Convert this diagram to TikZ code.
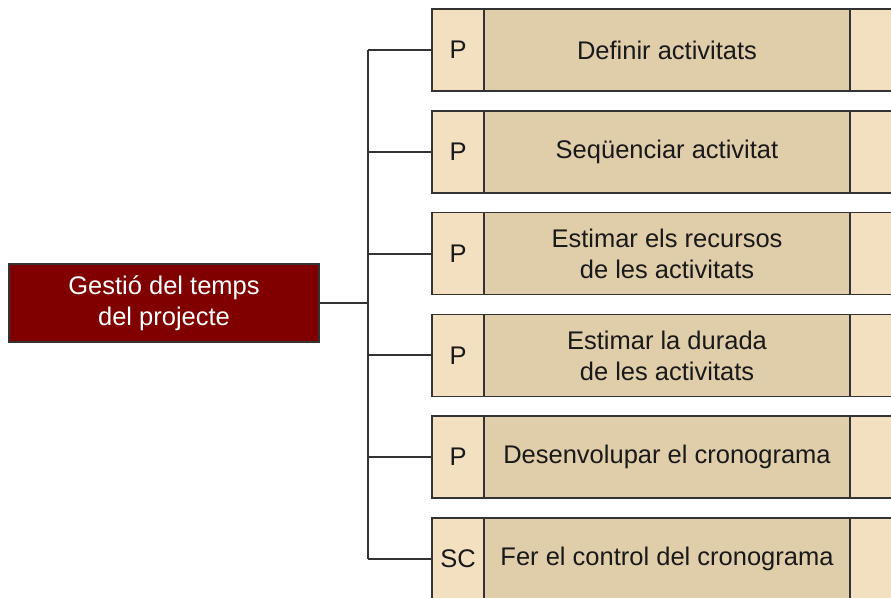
\documentclass[tikz,border=0pt]{standalone}
\usepackage{fontspec}
\setmainfont{Liberation Sans}
\usepackage{tikz}
\usetikzlibrary{positioning}

\definecolor{rootred}{HTML}{800000}
\definecolor{taglight}{HTML}{F3E0C1}
\definecolor{taskdark}{HTML}{E0CDAA}
\definecolor{edgegray}{HTML}{333333}

\tikzset{
    box/.style={draw=edgegray, line width=1.5pt, outer sep=0pt, inner sep=0pt,
        minimum height=82pt, align=center, text=black!90,
        font=\fontsize{25.5}{31}\selectfont},
    tagbox/.style={box, fill=taglight, minimum width=52pt},
    taskbox/.style={box, fill=taskdark, minimum width=366pt},
    endbox/.style={box, fill=taglight, minimum width=80pt},
    rootbox/.style={box, fill=rootred, text=white, minimum width=310pt, minimum height=78pt},
    link/.style={draw=edgegray, line width=2pt}
}

\begin{document}
\begin{tikzpicture}[x=1pt,y=-1pt]
    \useasboundingbox (0,0) rectangle (891,597);
    \clip (0,0) rectangle (891,597);

    \node[rootbox] (root) at (164,303) {Gesti\'o del temps\\del projecte};
    \coordinate (trunk) at (368,303);

    % process rows
    \node[tagbox, anchor=north west] (tag1) at (432,9) {P};
    \node[taskbox, right=0pt of tag1] (task1) {Definir activitats};
    \node[endbox, right=0pt of task1] (end1) {};

    \node[tagbox, anchor=north west] (tag2) at (432,110.8) {P};
    \node[taskbox, right=0pt of tag2] (task2) {Seq\"uenciar activitat};
    \node[endbox, right=0pt of task2] (end2) {};

    \node[tagbox, anchor=north west] (tag3) at (432,212.6) {P};
    \node[taskbox, right=0pt of tag3] (task3) {Estimar els recursos\\de les activitats};
    \node[endbox, right=0pt of task3] (end3) {};

    \node[tagbox, anchor=north west] (tag4) at (432,314.4) {P};
    \node[taskbox, right=0pt of tag4] (task4) {Estimar la durada\\de les activitats};
    \node[endbox, right=0pt of task4] (end4) {};

    \node[tagbox, anchor=north west] (tag5) at (432,416.2) {P};
    \node[taskbox, right=0pt of tag5] (task5) {Desenvolupar el cronograma};
    \node[endbox, right=0pt of task5] (end5) {};

    \node[tagbox, anchor=north west] (tag6) at (432,518) {SC};
    \node[taskbox, right=0pt of tag6] (task6) {Fer el control del cronograma};
    \node[endbox, right=0pt of task6] (end6) {};

    % tree lines
    \draw[link] (root) -- (trunk);
    \draw[link] (trunk |- tag1.west) -- (trunk |- tag6.west);
    \draw[link] (trunk |- tag1.west) -- (tag1.west);
    \draw[link] (trunk |- tag2.west) -- (tag2.west);
    \draw[link] (trunk |- tag3.west) -- (tag3.west);
    \draw[link] (trunk |- tag4.west) -- (tag4.west);
    \draw[link] (trunk |- tag5.west) -- (tag5.west);
    \draw[link] (trunk |- tag6.west) -- (tag6.west);
\end{tikzpicture}
\end{document}
